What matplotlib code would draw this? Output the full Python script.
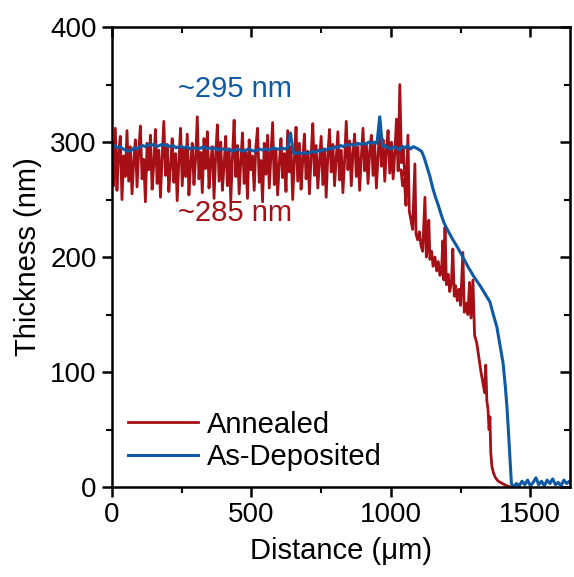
import numpy as np
import matplotlib
matplotlib.use("Agg")
import matplotlib.pyplot as plt
from matplotlib.ticker import MultipleLocator

plt.rcParams['font.family'] = ['Liberation Sans', 'DejaVu Sans']

# Annealed profile: noisy plateau, 6 um sampling
red_flat = [
    300, 262, 312, 258, 290, 305, 250, 288, 270, 310, 266, 296, 255, 283, 302, 261, 292,
    314, 268, 285, 248, 299, 276, 306, 259, 281, 311, 264, 293, 252, 287, 318, 271, 298,
    257, 279, 303, 265, 290, 249, 284, 312, 262, 295, 270, 307, 254, 281, 299, 263, 286,
    322, 268, 291, 256, 303, 277, 309, 260, 283, 296, 251, 289, 315, 266, 300, 258, 280,
    305, 262, 294, 249, 287, 319, 270, 297, 255, 283, 308, 264, 291, 251, 302, 276, 288,
    258, 296, 312, 265, 284, 248, 299, 272, 306, 260, 288, 317, 263, 293, 254, 281, 303,
    269, 290, 257, 310, 274, 296, 250, 285, 313, 266, 299, 259, 284, 307, 268, 292, 255,
    288, 316, 271, 297, 260, 282, 305, 263, 294, 252, 289, 311, 274, 298, 262, 286, 309,
    267, 293, 256, 284, 318, 276, 301, 262, 290, 307, 270, 296, 258, 287, 312, 275, 299,
    264, 292, 306, 271, 298, 260, 288, 315, 279, 302, 266, 294, 310, 273, 300, 268, 290,
    320, 275, 350, 282, 296, 270,
]
red_flat_x = np.arange(len(red_flat)) * 6.0

# Annealed step edge
red_edge_x = [1036, 1042, 1048, 1054, 1061, 1066, 1072, 1078, 1086, 1090, 1096, 1102,
              1108, 1114, 1122, 1127, 1132, 1136, 1140, 1146, 1151, 1158, 1164, 1170,
              1176, 1182, 1186, 1190, 1194, 1199, 1205, 1211, 1217, 1222, 1227, 1232,
              1238, 1244, 1250, 1258, 1263, 1270, 1276, 1282, 1287, 1294, 1300, 1308,
              1316, 1323, 1330, 1336, 1340, 1344, 1348, 1352, 1355, 1358, 1362, 1368,
              1375, 1385, 1400, 1415, 1430]
red_edge = [276, 262, 268, 245, 306, 240, 232, 224, 281, 220, 215, 222,
            210, 205, 252, 200, 210, 232, 198, 205, 192, 200, 188, 196,
            184, 190, 214, 180, 226, 176, 185, 170, 178, 207, 166, 175,
            162, 172, 158, 204, 152, 160, 150, 178, 147, 180, 132, 125,
            112, 100, 90, 82, 106, 75, 68, 50, 61, 30, 18, 12,
            8, 5, 3, 1, 0]

# As-deposited profile: plateau at 10 um sampling
blue_flat = [
    296, 297, 295, 296, 294, 293, 292, 293, 295, 294,
    296, 297, 296, 298, 297, 298, 296, 297, 298, 297,
    297, 296, 297, 295, 296, 296, 295, 296, 294, 295,
    295, 294, 295, 296, 294, 295, 294, 295, 293, 294,
    294, 293, 294, 292, 293, 294, 293, 292, 293, 294,
    293, 292, 293, 294, 293, 294, 293, 294, 295, 294,
    294, 295, 294, 295, 308, 291, 290, 291, 290, 291,
    290, 291, 292, 291, 293, 292, 294, 293, 295, 294,
    296, 295, 297, 296, 298, 297, 298, 297, 299, 298,
    299, 298, 300, 299, 300, 299, 322, 296, 297, 295,
    294, 296, 295, 293, 296, 295, 297, 294, 296, 295,
]
blue_flat_x = np.arange(len(blue_flat)) * 10.0

blue_edge_x = [1110, 1120, 1130, 1140, 1150, 1160, 1170, 1180, 1190, 1200, 1220, 1240,
               1260, 1280, 1300, 1320, 1340, 1355, 1366, 1380, 1392, 1402, 1410, 1416,
               1421, 1426, 1432]
blue_edge = [292, 286, 278, 270, 260, 252, 245, 237, 230, 225, 216, 208,
             199, 190, 182, 175, 167, 161, 151, 139, 122, 108, 88, 70,
             50, 28, 3]

# substrate after the step
blue_base = [0, 3, 1, 5, 2, 6, 1, 4, 8, 2, 5, 1, 6, 3, 7, 2, 4, 1, 6, 3, 5, 2]
blue_base_x = 1440 + np.arange(len(blue_base)) * 10.0

red_x = np.concatenate([red_flat_x, red_edge_x])
red_y = np.concatenate([red_flat, red_edge])
blue_x = np.concatenate([blue_flat_x, blue_edge_x, blue_base_x])
blue_y = np.concatenate([blue_flat, blue_edge, blue_base])

RED = "#A50F15"
BLUE = "#0F5AA5"

fig = plt.figure(figsize=(5.74, 5.77), dpi=100)
ax = fig.add_axes([0.195, 0.156, 0.798, 0.797])

ax.plot(red_x, red_y, color=RED, lw=2.0, label="Annealed")
ax.plot(blue_x, blue_y, color=BLUE, lw=2.2, label="As-Deposited")

ax.set_xlim(0, 1642)
ax.set_ylim(0, 400)
ax.xaxis.set_major_locator(MultipleLocator(500))
ax.xaxis.set_minor_locator(MultipleLocator(250))
ax.yaxis.set_major_locator(MultipleLocator(100))
ax.yaxis.set_minor_locator(MultipleLocator(50))

for s in ax.spines.values():
    s.set_linewidth(1.8)
ax.tick_params(which='major', direction='out', length=7, width=1.8, labelsize=20, pad=4)
ax.tick_params(which='minor', direction='out', length=4, width=1.5)

# mirror ticks on top/right, pointing inward
top = ax.secondary_xaxis('top')
top.xaxis.set_major_locator(MultipleLocator(500))
top.xaxis.set_minor_locator(MultipleLocator(250))
top.tick_params(which='major', direction='in', length=7, width=1.8, labeltop=False)
top.tick_params(which='minor', direction='in', length=4, width=1.5)
right = ax.secondary_yaxis('right')
right.yaxis.set_major_locator(MultipleLocator(100))
right.yaxis.set_minor_locator(MultipleLocator(50))
right.tick_params(which='major', direction='in', length=7, width=1.8, labelright=False)
right.tick_params(which='minor', direction='in', length=4, width=1.5)

ax.set_xlabel("Distance (μm)", fontsize=21, labelpad=6)
ax.set_ylabel("Thickness (nm)", fontsize=21, labelpad=6)

ax.text(237, 346, "~295 nm", color=BLUE, fontsize=21, va='center', ha='left')
ax.text(237, 238, "~285 nm", color=RED, fontsize=21, va='center', ha='left')

ax.legend(loc='lower left', frameon=False, fontsize=21, handlelength=2.4,
          handletextpad=0.3, labelspacing=0.15, borderaxespad=0.15,
          bbox_to_anchor=(0.0, 0.0))

fig.savefig("out.png", dpi=100)
